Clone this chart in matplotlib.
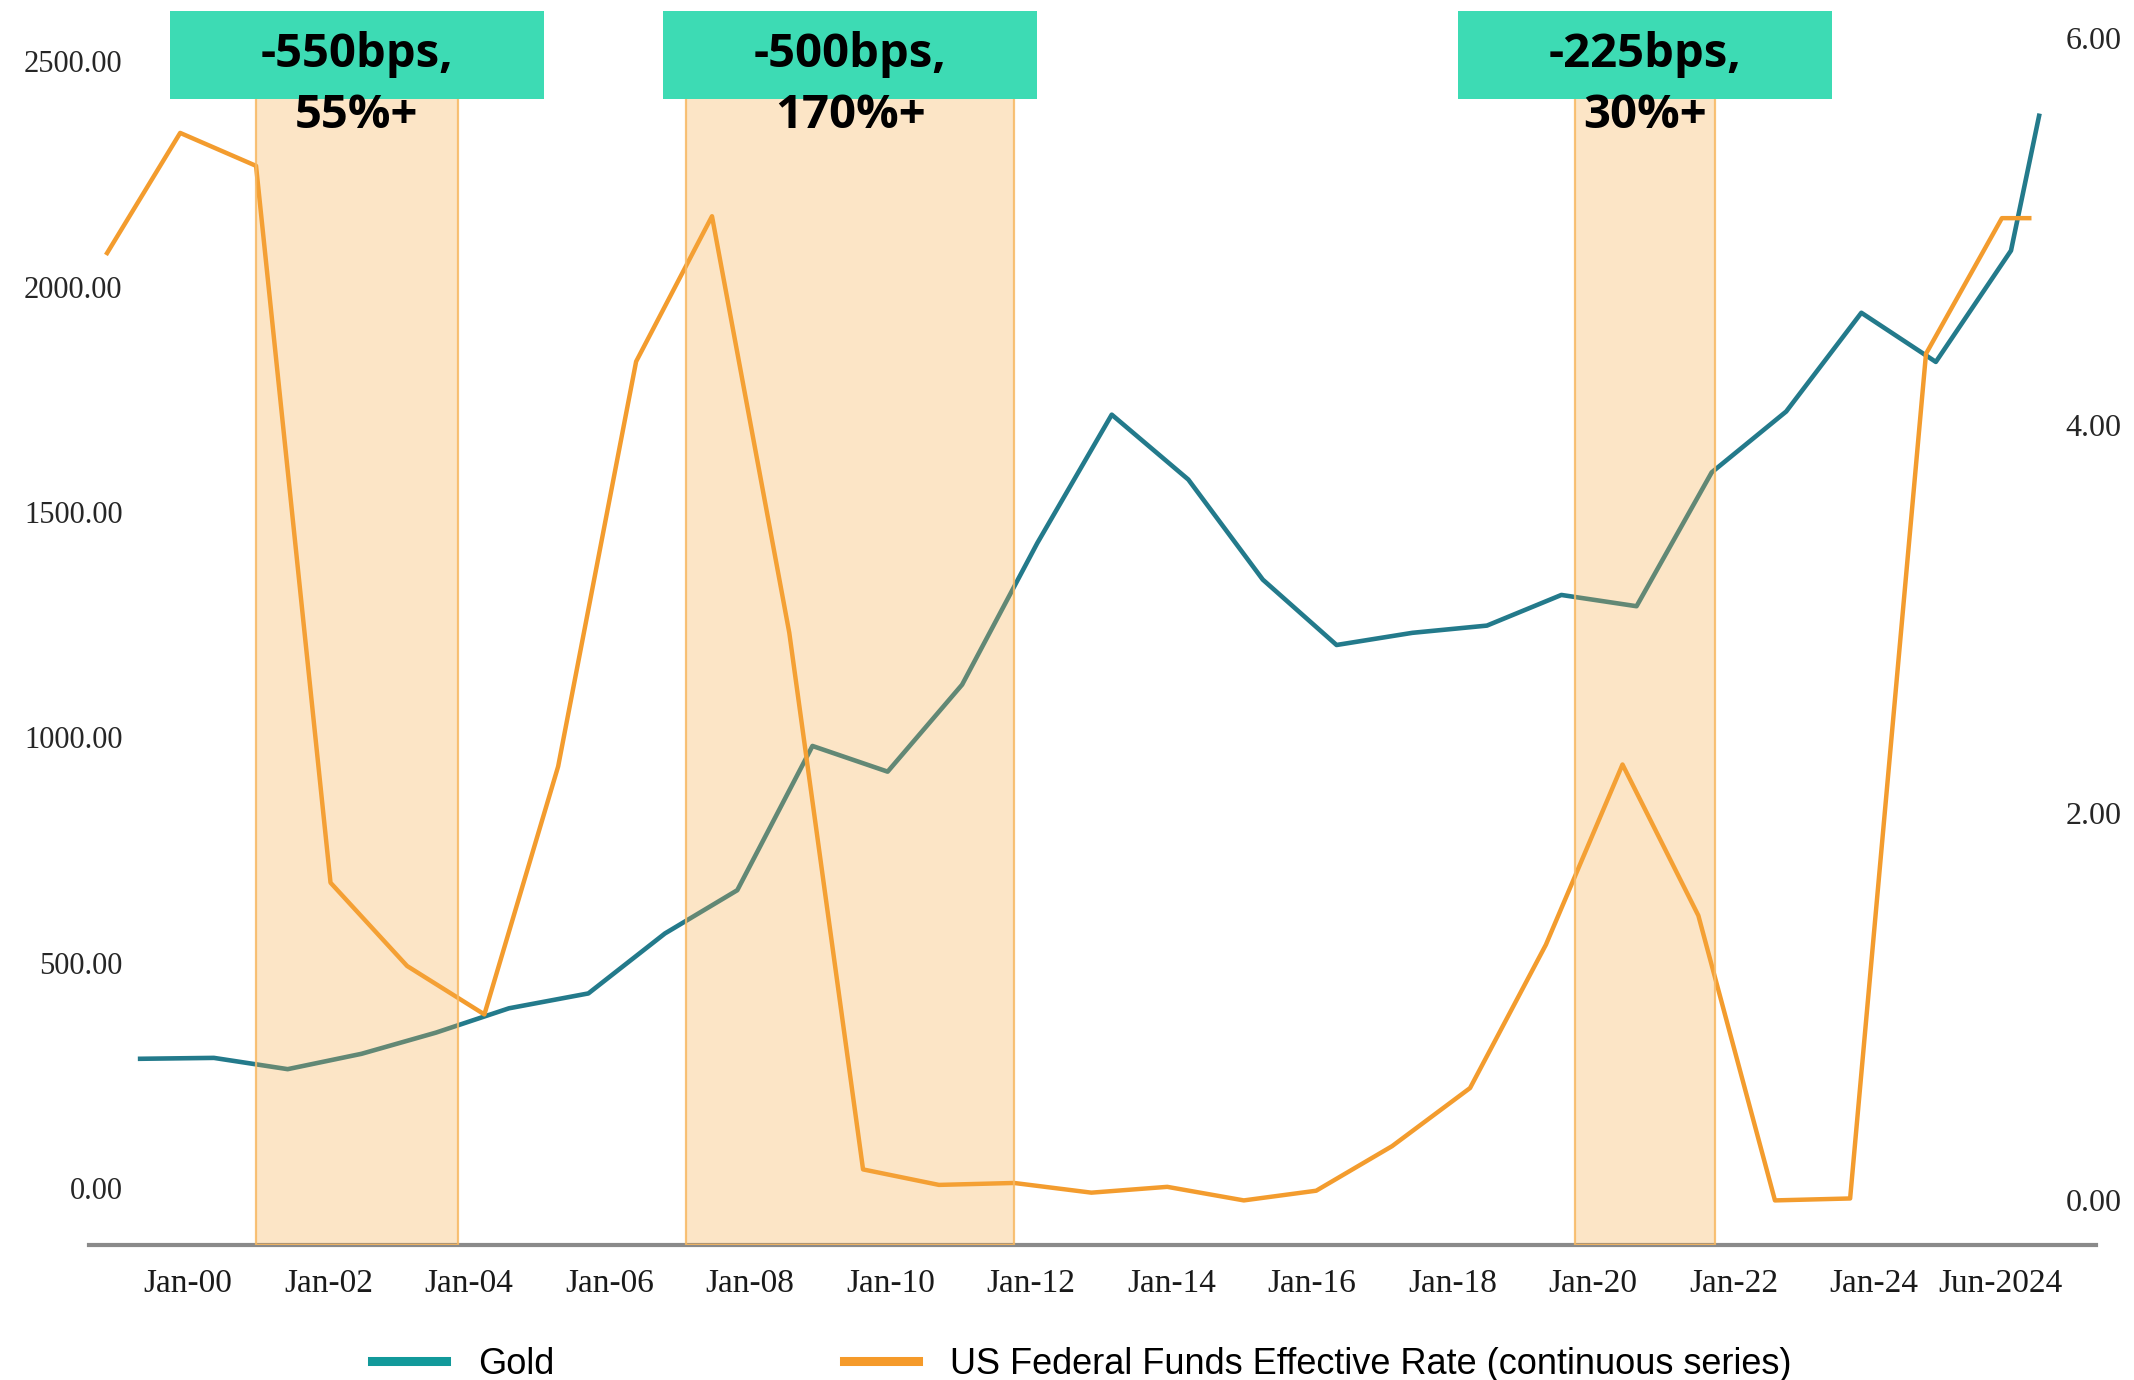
import matplotlib.pyplot as plt
import matplotlib.transforms as mtransforms
from matplotlib.lines import Line2D
from matplotlib.patches import Rectangle

plt.rcParams['font.family'] = 'Liberation Serif'

# Gold price (left axis), sample dates as decimal years
gold_x = [1999.32, 2000.37, 2001.42, 2002.47, 2003.53, 2004.57, 2005.70, 2006.79,
          2007.82, 2008.89, 2009.96, 2011.02, 2012.09, 2013.15, 2014.24, 2015.30,
          2016.35, 2017.43, 2018.49, 2019.55, 2020.62, 2021.69, 2022.75, 2023.82,
          2024.88, 2025.95, 2026.35]
gold_values = [287, 289, 264, 298, 345, 399, 432, 565,
               661, 981, 924, 1117, 1431, 1716, 1572, 1350,
               1205, 1232, 1248, 1316, 1291, 1588, 1723, 1942,
               1833, 2080, 2379]

# US Fed funds effective rate (right axis)
rate_x = [1998.85, 1999.89, 2000.97, 2002.03, 2003.12, 2004.22, 2005.27, 2006.38,
          2007.46, 2008.56, 2009.61, 2010.69, 2011.76, 2012.86, 2013.94, 2015.03,
          2016.06, 2017.14, 2018.25, 2019.33, 2020.42, 2021.50, 2022.59, 2023.66,
          2024.74, 2025.82, 2026.21]
rate_values = [4.89, 5.51, 5.34, 1.64, 1.21, 0.96, 2.24, 4.33,
               5.08, 2.93, 0.16, 0.08, 0.09, 0.04, 0.07, 0.00,
               0.05, 0.28, 0.58, 1.32, 2.25, 1.47, 0.00, 0.01,
               4.37, 5.07, 5.07]

# Rate cutting cycles
cut_start = [2000.97, 2007.09, 2019.75]
cut_end = [2003.84, 2011.76, 2021.73]
cut_bps = ['-550bps,', '-500bps,', '-225bps,']
gold_gain = ['55%+', '170%+', '30%+']

tick_pos = [2000, 2002, 2004, 2006, 2008, 2010, 2012, 2014, 2016, 2018, 2020, 2022, 2024, 2025.8]
tick_labels = ['Jan-00', 'Jan-02', 'Jan-04', 'Jan-06', 'Jan-08', 'Jan-10', 'Jan-12',
               'Jan-14', 'Jan-16', 'Jan-18', 'Jan-20', 'Jan-22', 'Jan-24', 'Jun-2024']
left_ticks = [0, 500, 1000, 1500, 2000, 2500]
right_ticks = [0, 2, 4, 6]

gold_color = '#237A8B'
rate_color = '#F39C2E'

fig = plt.figure(figsize=(21.34, 13.8), dpi=100)
ax = fig.add_axes([0.0415, 0.0976, 0.9406, 0.8945])
ax2 = ax.twinx()

ax.plot(gold_x, gold_values, color=gold_color, lw=3.3, zorder=2)
ax2.plot(rate_x, rate_values, color=rate_color, lw=3.2, zorder=2)

ax.set_xlim(1998.586, 2027.157)
ax.set_ylim(-126.8, 2611.7)
ax2.set_ylim(-0.2318, 6.1398)

ax.set_xticks(tick_pos, tick_labels)
ax.set_yticks(left_ticks, ['{:.2f}'.format(v) for v in left_ticks])
ax2.set_yticks(right_ticks, ['{:.2f}'.format(v) for v in right_ticks])

ax.tick_params(axis='x', length=0, pad=17, labelsize=24, labelcolor='#1a1a1a')
ax.tick_params(axis='y', length=0, pad=-24.5, labelsize=22, labelcolor='#262626')
ax2.tick_params(axis='y', length=0, pad=-21.6, labelsize=23, labelcolor='#262626')

for s in ['top', 'left', 'right']:
    ax.spines[s].set_visible(False)
for s in ax2.spines:
    ax2.spines[s].set_visible(False)
ax.spines['bottom'].set_color('#8A8A8A')
ax.spines['bottom'].set_linewidth(3)

# shaded cutting cycles with labels on top
trans = mtransforms.blended_transform_factory(ax2.transData, ax2.transAxes)
box_w = 5.327
for x0, x1, bps, gain in zip(cut_start, cut_end, cut_bps, gold_gain):
    ax2.axvspan(x0, x1, facecolor=(0.97, 0.67, 0.27, 0.30),
                edgecolor=(0.97, 0.72, 0.38, 0.85), lw=1.6, zorder=3)
    cx = (x0 + x1) / 2
    ax2.add_patch(Rectangle((cx - box_w / 2, 0.9283), box_w, 0.0717, transform=trans,
                            facecolor='#3DDBB4', edgecolor='none', clip_on=False, zorder=5))
    ax2.text(cx, 0.9647, bps, transform=trans, ha='center', va='center',
             fontsize=34, fontweight='bold', family='Open Sans', zorder=6)
    ax2.text(cx, 0.9151, gain, transform=trans, ha='center', va='center',
             fontsize=34, fontweight='bold', family='Open Sans', zorder=6)

handles = [Line2D([], [], color='#12999A', lw=6.5),
           Line2D([], [], color='#F59A2A', lw=6.5)]
fig.legend(handles, ['Gold', 'US Federal Funds Effective Rate (continuous series)'],
           loc='lower center', bbox_to_anchor=(0.507, -0.025), ncol=2, frameon=False,
           prop={'family': 'Liberation Sans', 'size': 26},
           handlelength=2.05, handletextpad=0.9, columnspacing=8.0)

plt.savefig('out.png', dpi=100)
